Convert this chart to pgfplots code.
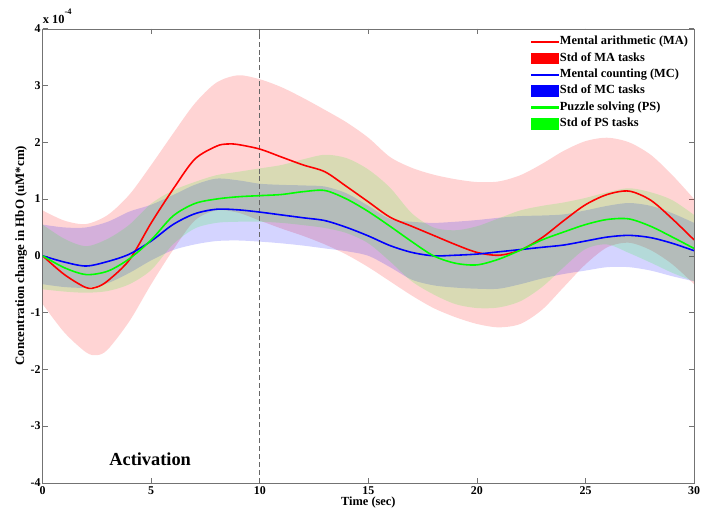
\documentclass[border=0pt]{standalone}
\usepackage{fontspec}
\setmainfont{Liberation Serif}
\usepackage{pgfplots}
\pgfplotsset{compat=1.18}
\usepgfplotslibrary{fillbetween}
\usetikzlibrary{calc}

\definecolor{mared}{RGB}{255,0,0}
\definecolor{mcblue}{RGB}{0,0,255}
\definecolor{psgreen}{RGB}{0,255,0}

\begin{document}
\begin{tikzpicture}
\begin{axis}[
  scale only axis, width=657pt, height=458pt,
  xmin=0, xmax=30, ymin=-4, ymax=4,
  clip mode=individual,
  xtick={0,5,...,30}, ytick={-4,-3,...,4},
  tick align=inside, major tick length=5pt,
  axis line style={black!55}, tick style={black!55, line width=0.6pt},
  /pgf/number format/assume math mode=true,
  ticklabel style={font=\fontsize{12}{13}\selectfont\bfseries},
  yticklabel style={xshift=1.5pt},
  xlabel={Time (sec)},
  ylabel={Concentration change in HbO (uM*cm)},
  xlabel style={font=\fontsize{12.5}{14}\selectfont\bfseries, yshift=4pt},
  ylabel style={font=\fontsize{13}{14}\selectfont\bfseries, yshift=-3pt},
  legend cell align=left,
  legend style={at={(1,1)}, anchor=north east, yshift=-1pt, draw=none, fill=white,
    inner sep=4pt, row sep=0.5pt,
    font=\fontsize{12.5}{14}\selectfont\bfseries,
    nodes={inner sep=2pt, text height=9pt, text depth=3pt}},
]
\coordinate (sw) at (rel axis cs:0,0);
\coordinate (ne) at (rel axis cs:1,1);

% MA std band
\addplot[name path=MAu, draw=none, smooth, forget plot] coordinates {
(0,0.8) (1,0.62) (2,0.56) (3,0.72) (4,1.08) (5,1.6) (6,2.15) (7,2.68) (8,3.05) (9,3.18)
(10,3.11) (11,2.97) (12,2.78) (13,2.57) (14,2.35) (15,2.08) (16,1.74) (17,1.55) (18,1.43)
(19,1.35) (20,1.3) (21,1.31) (22,1.42) (23,1.62) (24,1.85) (25,2.02) (26,2.08) (27,2.0)
(28,1.78) (29,1.42) (30,1.0)};
\addplot[name path=MAl, draw=none, smooth, forget plot] coordinates {
(0,-0.85) (1,-1.35) (2,-1.7) (2.5,-1.75) (3,-1.65) (4,-1.15) (5,-0.5) (6,0.1) (7,0.62)
(8,0.8) (9,0.76) (10,0.62) (11,0.48) (12,0.35) (13,0.2) (14,0.02) (15,-0.2) (16,-0.45)
(17,-0.7) (18,-0.92) (19,-1.08) (20,-1.2) (21,-1.26) (22,-1.2) (23,-0.95) (24,-0.55)
(25,-0.15) (26,0.15) (27,0.23) (28,0.1) (29,-0.15) (30,-0.5)};
\addplot[fill=mared, fill opacity=0.17, draw=none, forget plot] fill between[of=MAu and MAl];

% MC std band
\addplot[name path=MCu, draw=none, smooth, forget plot] coordinates {
(0,0.55) (1,0.5) (2,0.5) (3,0.6) (4,0.78) (5,0.9) (6,1.07) (7,1.25) (8,1.36) (9,1.33)
(10,1.27) (11,1.25) (12,1.24) (13,1.22) (14,1.1) (15,0.88) (16,0.65) (17,0.6) (18,0.58)
(19,0.6) (20,0.63) (21,0.67) (22,0.7) (23,0.71) (24,0.73) (25,0.8) (26,0.88) (27,0.93)
(28,0.88) (29,0.75) (30,0.58)};
\addplot[name path=MCl, draw=none, smooth, forget plot] coordinates {
(0,-0.5) (1,-0.55) (2,-0.56) (3,-0.48) (4,-0.3) (5,-0.08) (6,0.1) (7,0.2) (8,0.26) (9,0.27)
(10,0.25) (11,0.22) (12,0.18) (13,0.13) (14,0.08) (15,0.0) (16,-0.2) (17,-0.42) (18,-0.52)
(19,-0.56) (20,-0.58) (21,-0.58) (22,-0.5) (23,-0.4) (24,-0.32) (25,-0.26) (26,-0.2)
(27,-0.2) (28,-0.26) (29,-0.36) (30,-0.45)};
\addplot[fill=mcblue, fill opacity=0.17, draw=none, forget plot] fill between[of=MCu and MCl];

% PS std band
\addplot[name path=PSu, draw=none, smooth, forget plot] coordinates {
(0,0.55) (1,0.3) (2,0.17) (3,0.3) (4,0.55) (5,0.92) (6,1.15) (7,1.3) (8,1.42) (9,1.48)
(10,1.54) (11,1.6) (12,1.7) (13,1.78) (14,1.72) (15,1.52) (16,1.2) (17,0.75) (18,0.5)
(19,0.45) (20,0.52) (21,0.66) (22,0.8) (23,0.88) (24,0.94) (25,1.02) (26,1.12) (27,1.19)
(28,1.12) (29,0.98) (30,0.72)};
\addplot[name path=PSl, draw=none, smooth, forget plot] coordinates {
(0,-0.59) (1,-0.63) (2,-0.65) (3,-0.62) (4,-0.5) (5,-0.25) (6,0.2) (7,0.48) (8,0.58)
(9,0.6) (10,0.6) (11,0.58) (12,0.54) (13,0.49) (14,0.4) (15,0.22) (16,-0.1) (17,-0.45)
(18,-0.68) (19,-0.85) (20,-0.92) (21,-0.91) (22,-0.8) (23,-0.55) (24,-0.2) (25,0.12)
(26,0.2) (27,0.05) (28,-0.12) (29,-0.3) (30,-0.45)};
\addplot[fill=psgreen, fill opacity=0.15, draw=none, forget plot] fill between[of=PSu and PSl];

% stimulus end marker
\addplot[forget plot, black!60, dash pattern=on 5pt off 3pt, line width=0.8pt]
  coordinates {(10,-4) (10,4)};

% mean curves
\addplot[forget plot, mared, line width=1.6pt, smooth] coordinates {
(0,0) (1,-0.33) (2,-0.56) (2.5,-0.55) (3,-0.44) (4,-0.07) (5,0.58) (6,1.17) (7,1.7)
(8,1.93) (8.5,1.97) (9,1.96) (10,1.88) (11,1.74) (12,1.6) (13,1.48) (14,1.22) (15,0.95)
(16,0.68) (17,0.52) (18,0.36) (19,0.2) (20,0.06) (21,0.01) (22,0.1) (23,0.32) (24,0.62)
(25,0.9) (26,1.08) (27,1.14) (28,0.98) (29,0.65) (30,0.28)};
\addplot[forget plot, mcblue, line width=1.6pt, smooth] coordinates {
(0,0) (1,-0.11) (2,-0.18) (3,-0.1) (4,0.03) (5,0.26) (6,0.55) (7,0.74) (8,0.82) (9,0.81)
(10,0.77) (11,0.72) (12,0.67) (13,0.62) (14,0.5) (15,0.35) (16,0.18) (17,0.06) (18,0.0)
(19,0.01) (20,0.03) (21,0.07) (22,0.11) (23,0.15) (24,0.19) (25,0.26) (26,0.33) (27,0.36)
(28,0.32) (29,0.22) (30,0.09)};
\addplot[forget plot, psgreen, line width=1.6pt, smooth] coordinates {
(0,0) (1,-0.21) (2,-0.33) (3,-0.27) (4,-0.05) (5,0.28) (6,0.7) (7,0.92) (8,1.0) (9,1.04)
(10,1.06) (11,1.08) (12,1.13) (13,1.15) (14,1.0) (15,0.78) (16,0.52) (17,0.25) (18,0.0)
(19,-0.13) (20,-0.16) (21,-0.06) (22,0.1) (23,0.28) (24,0.42) (25,0.55) (26,0.64)
(27,0.65) (28,0.52) (29,0.33) (30,0.13)};

% legend
\addlegendimage{legend image code/.code={\fill[mared] (0pt,-0.8pt) rectangle (27pt,0.8pt);}}
\addlegendentry{Mental arithmetic (MA)}
\addlegendimage{legend image code/.code={\fill[mared] (0pt,-5.5pt) rectangle (27pt,5.5pt);}}
\addlegendentry{Std of MA tasks}
\addlegendimage{legend image code/.code={\fill[mcblue] (0pt,-0.8pt) rectangle (27pt,0.8pt);}}
\addlegendentry{Mental counting (MC)}
\addlegendimage{legend image code/.code={\fill[mcblue] (0pt,-5.5pt) rectangle (27pt,5.5pt);}}
\addlegendentry{Std of MC tasks}
\addlegendimage{legend image code/.code={\fill[psgreen] (0pt,-0.8pt) rectangle (27pt,0.8pt);}}
\addlegendentry{Puzzle solving (PS)}
\addlegendimage{legend image code/.code={\fill[psgreen] (0pt,-5.5pt) rectangle (27pt,5.5pt);}}
\addlegendentry{Std of PS tasks}

\node[font=\fontsize{18.5}{20}\selectfont\bfseries] at (axis cs:4.95,-3.58) {Activation};
\node[anchor=base west, inner sep=0pt, yshift=5.7pt,
  font=\fontsize{12.5}{14}\selectfont\bfseries] at (rel axis cs:0,1)
  {x 10\raisebox{9pt}{\fontsize{8.5}{10}\selectfont -4}};
\end{axis}
\pgfresetboundingbox
\path ($(sw)+(-43pt,-33pt)$) rectangle ($(ne)+(9pt,29pt)$);
\end{tikzpicture}
\end{document}
